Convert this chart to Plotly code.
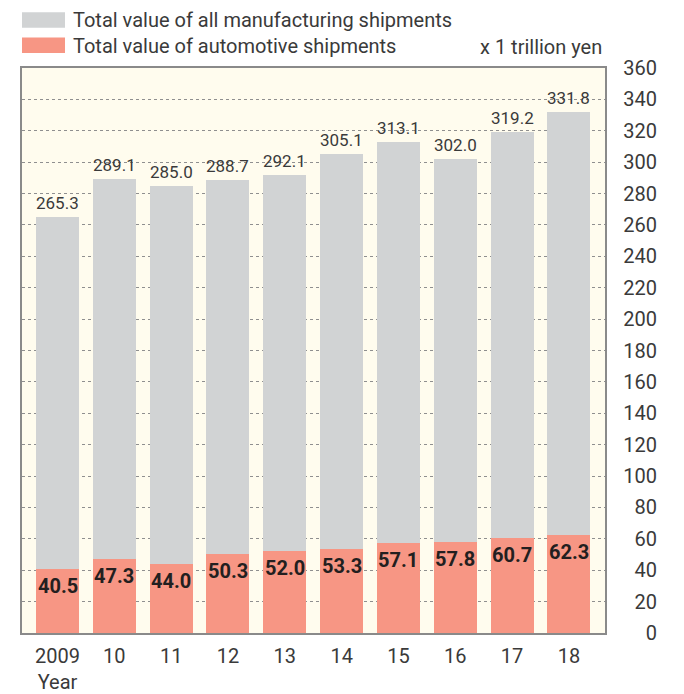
"""
Manufacturing vs automotive shipments, overlaid bar chart.
"""

import plotly.graph_objects as go

# data
years = ["2009", "10", "11", "12", "13", "14", "15", "16", "17", "18"]
all_manufacturing = [265.3, 289.1, 285.0, 288.7, 292.1, 305.1, 313.1, 302.0, 319.2, 331.8]
automotive = [40.5, 47.3, 44.0, 50.3, 52.0, 53.3, 57.1, 57.8, 60.7, 62.3]
series_names = ["Total value of all manufacturing shipments", "Total value of automotive shipments"]
unit_label = "x 1 trillion yen"
axis_label = "Year"
y_ticks = list(range(0, 361, 20))

GRAY = "#D1D3D4"
SALMON = "#F79684"
BG = "#FFFCEE"
TEXT = "#3A3A3A"
FONT = "Roboto"

W, H = 684, 694
L, R, T, B = 22, 0, 68, 59
plot_w = W - L - R
plot_h = H - T - B
right_px = 605


def px_x(px):
    # pixel -> paper x
    return (px - L) / plot_w


def px_y(py):
    # pixel -> paper y
    return (H - B - py) / plot_h


idx = list(range(len(years)))

fig = go.Figure()

fig.add_trace(go.Bar(
    x=idx, y=all_manufacturing,
    name=series_names[0],
    marker=dict(color=GRAY, line=dict(width=0)),
    width=0.757,
    hoverinfo="y",
))

fig.add_trace(go.Bar(
    x=idx, y=automotive,
    name=series_names[1],
    marker=dict(color=SALMON, line=dict(width=0)),
    width=0.757,
    hoverinfo="y",
))

annotations = []

# value labels above the gray bars
for i, v in zip(idx, all_manufacturing):
    annotations.append(dict(
        x=i, y=v, xref="x", yref="y",
        text=f"{v:.1f}", showarrow=False,
        yanchor="middle", yshift=14,
        font=dict(family=FONT, size=17, color=TEXT),
    ))

# bold value labels inside the salmon bars
for i, v in zip(idx, automotive):
    annotations.append(dict(
        x=i, y=v, xref="x", yref="y",
        text=f"<b>{v:.1f}</b>", showarrow=False,
        yanchor="middle", yshift=-17,
        font=dict(family=FONT, size=20, color="#231F20"),
    ))

# custom legend
shapes = []
for k, (name, color) in enumerate(zip(series_names, [GRAY, SALMON])):
    top = 12 + k * 25.5
    shapes.append(dict(
        type="rect", xref="paper", yref="paper",
        x0=px_x(22), x1=px_x(65), y0=px_y(top + 15.5), y1=px_y(top),
        fillcolor=color, line=dict(width=0),
    ))
    annotations.append(dict(
        x=px_x(71), y=px_y(top + 8), xref="paper", yref="paper",
        text=name, showarrow=False, xanchor="left", yanchor="middle",
        font=dict(family=FONT, size=20, color=TEXT),
    ))

annotations.append(dict(
    x=px_x(604), y=px_y(46.5), xref="paper", yref="paper",
    text=unit_label, showarrow=False, xanchor="right", yanchor="middle",
    font=dict(family=FONT, size=20, color=TEXT),
))

tick_text = [years[0] + "<br>" + axis_label] + years[1:]

fig.update_layout(
    width=W, height=H,
    margin=dict(l=L, r=R, t=T, b=B, pad=0),
    barmode="overlay",
    bargap=0,
    showlegend=False,
    paper_bgcolor="white",
    plot_bgcolor=BG,
    font=dict(family=FONT, color=TEXT),
    xaxis=dict(
        domain=[0, px_x(right_px)],
        range=[-0.625, 9.635],
        tickmode="array", tickvals=idx, ticktext=tick_text,
        tickfont=dict(size=20, color=TEXT),
        showgrid=False, zeroline=False,
        showline=True, linecolor="#8A8A8A", linewidth=2, mirror=True,
        ticks="", ticklabelstandoff=4,
        fixedrange=True,
    ),
    yaxis=dict(
        range=[0, 360],
        tickmode="array", tickvals=y_ticks,
        showticklabels=False,
        showgrid=True, gridcolor="#8F8F8F", griddash="dot", gridwidth=1,
        zeroline=False,
        showline=True, linecolor="#8A8A8A", linewidth=2, mirror=True,
        ticks="",
        fixedrange=True,
    ),
    yaxis2=dict(
        overlaying="y", anchor="free", side="left",
        position=px_x(657),
        range=[0, 360],
        tickmode="array", tickvals=y_ticks,
        tickfont=dict(size=20, color=TEXT),
        showgrid=False, zeroline=False, showline=False, ticks="",
        fixedrange=True,
    ),
    shapes=shapes,
    annotations=annotations,
)

# dummy trace so yaxis2 gets drawn
fig.add_trace(go.Scatter(
    x=[idx[0]], y=[0], yaxis="y2", mode="markers",
    marker=dict(opacity=0), hoverinfo="skip", showlegend=False,
))

# page body has a default 8px margin; drop it so the figure sits at 0,0
fig.write_html(
    "out.html",
    config={"displayModeBar": False},
    post_script="document.body.style.margin='0';",
)
